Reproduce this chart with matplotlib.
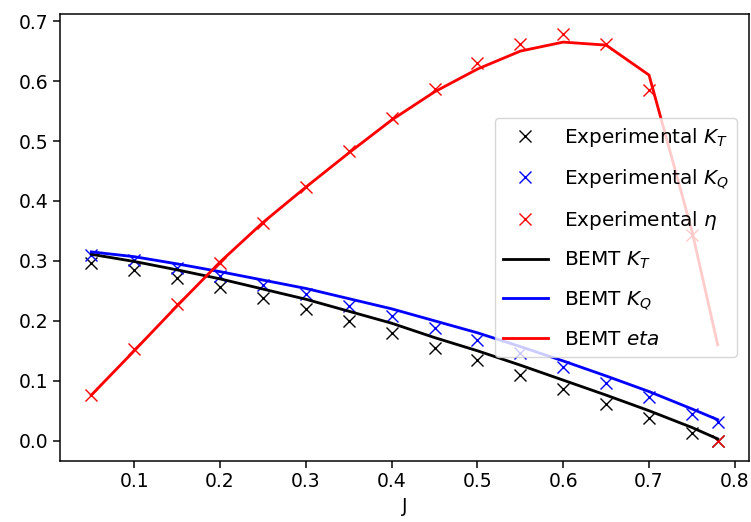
import matplotlib
matplotlib.use("Agg")
import matplotlib.pyplot as plt

J = [0.05, 0.10, 0.15, 0.20, 0.25, 0.30, 0.35, 0.40, 0.45, 0.50, 0.55, 0.60, 0.65, 0.70, 0.75, 0.78]

exp_kt = [0.297, 0.285, 0.272, 0.256, 0.238, 0.220, 0.200, 0.179, 0.155, 0.134, 0.110, 0.087, 0.062, 0.038, 0.013, 0.000]
exp_kq = [0.310, 0.302, 0.288, 0.275, 0.260, 0.245, 0.225, 0.208, 0.188, 0.168, 0.147, 0.123, 0.097, 0.073, 0.045, 0.032]
exp_eta = [0.076, 0.153, 0.228, 0.297, 0.364, 0.424, 0.483, 0.538, 0.587, 0.630, 0.662, 0.678, 0.662, 0.585, 0.343, 0.000]

bemt_kt = [0.311, 0.299, 0.285, 0.270, 0.253, 0.236, 0.216, 0.196, 0.172, 0.150, 0.126, 0.101, 0.076, 0.050, 0.022, 0.003]
bemt_kq = [0.315, 0.307, 0.295, 0.282, 0.268, 0.254, 0.237, 0.220, 0.200, 0.180, 0.157, 0.133, 0.108, 0.082, 0.053, 0.035]
bemt_eta = [0.076, 0.150, 0.225, 0.298, 0.364, 0.423, 0.480, 0.535, 0.582, 0.620, 0.650, 0.665, 0.660, 0.610, 0.350, 0.160]

s = 1.35
plt.rcParams.update({
    "font.size": 10 * s,
    "lines.linewidth": 1.5 * s,
    "lines.markersize": 6 * s,
    "axes.linewidth": 0.8 * s,
    "xtick.major.size": 3.5 * s,
    "ytick.major.size": 3.5 * s,
    "xtick.major.width": 0.8 * s,
    "ytick.major.width": 0.8 * s,
})

fig = plt.figure(figsize=(7.51, 5.22), dpi=100)
ax = fig.add_axes([60 / 751, 61 / 522, 689 / 751, 447 / 522])

ax.plot(J, exp_kt, "x", color="k", label="Experimental $K_T$")
ax.plot(J, exp_kq, "x", color="b", label="Experimental $K_Q$")
ax.plot(J, exp_eta, "x", color="r", label="Experimental $\\eta$")
ax.plot(J, bemt_kt, "-", color="k", label="BEMT $K_T$")
ax.plot(J, bemt_kq, "-", color="b", label="BEMT $K_Q$")
ax.plot(J, bemt_eta, "-", color="r", label="BEMT $eta$")

ax.set_xlabel("J")
ax.legend(loc="center right", fontsize=14.4, labelspacing=0.91,
          handlelength=2.25, borderaxespad=0.6)

fig.savefig("out.png", dpi=100)
